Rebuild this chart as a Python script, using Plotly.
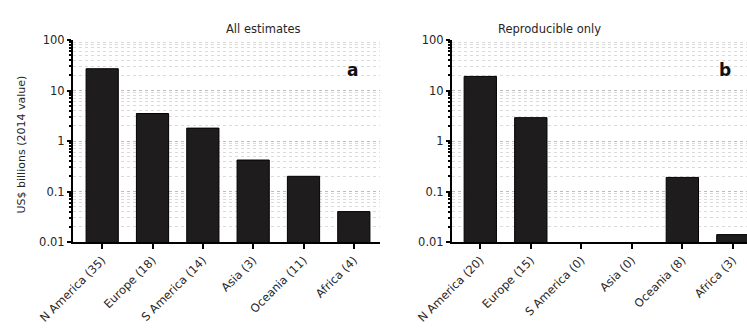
import plotly.graph_objects as go

# Regions with number of estimates in parentheses
regions_all = ["N America (35)", "Europe (18)", "S America (14)", "Asia (3)", "Oceania (11)", "Africa (4)"]
values_all = [27, 3.5, 1.8, 0.42, 0.2, 0.04]

regions_rep = ["N America (20)", "Europe (15)", "S America (0)", "Asia (0)", "Oceania (8)", "Africa (3)"]
values_rep = [19, 2.9, None, None, 0.19, 0.014]

ytick_vals = [0.01, 0.1, 1, 10, 100]
ytick_text = ["0.01", "0.1", "1", "10", "100"]
minor_vals = [m * 10 ** e for e in range(-2, 2) for m in range(2, 10)]

FONT = "DejaVu Sans, Verdana, sans-serif"
TXT = "#262626"
BAR = "#1f1c1d"
W, H = 747, 333

fig = go.Figure()
fig.add_trace(go.Bar(x=regions_all, y=values_all, width=0.64, xaxis="x", yaxis="y",
                     marker=dict(color=BAR, line=dict(color="black", width=1))))
fig.add_trace(go.Bar(x=regions_rep, y=values_rep, width=0.64, xaxis="x2", yaxis="y2",
                     marker=dict(color=BAR, line=dict(color="black", width=1))))

y_top = 1 - 40 / H
y_bot = 1 - 242 / H

def yaxis(anchor):
    return dict(type="log", range=[-2, 2], domain=[y_bot, y_top], anchor=anchor,
                automargin=False,
                tickmode="array", tickvals=ytick_vals, ticktext=ytick_text,
                ticks="outside", ticklen=4, tickwidth=1.5, tickcolor="black",
                showline=True, linecolor="black", linewidth=2,
                showgrid=True, gridcolor="#bcbcbc", griddash="dot", gridwidth=1,
                zeroline=False,
                tickfont=dict(family=FONT, size=11.5, color=TXT),
                minor=dict(tickmode="array", tickvals=minor_vals, ticks="outside",
                           ticklen=2, tickcolor="black", showgrid=True,
                           gridcolor="#dadada", griddash="dot", gridwidth=1))

def xaxis(anchor, dom, rng):
    return dict(domain=dom, anchor=anchor, range=rng, type="category",
                automargin=False,
                showline=True, linecolor="black", linewidth=2,
                ticks="outside", ticklen=5, tickwidth=1.5, tickcolor="black",
                tickangle=-45, showgrid=False, zeroline=False,
                tickfont=dict(family=FONT, size=11.5, color=TXT))

fig.update_layout(
    width=W, height=H, margin=dict(l=0, r=0, t=0, b=0, autoexpand=False),
    paper_bgcolor="white", plot_bgcolor="white", showlegend=False,
    bargap=0.36,
    xaxis=xaxis("y", [73 / W, 380 / W], [-0.58, 5.52]),
    yaxis=yaxis("x"),
    xaxis2=xaxis("y2", [452 / W, 1.0], [-0.56, 5.28]),
    yaxis2=yaxis("x2"),
    annotations=[
        dict(text="All estimates", x=224 / W, y=1 - 20 / H, xref="paper", yref="paper",
             showarrow=False, font=dict(family=FONT, size=11.5, color=TXT)),
        dict(text="Reproducible only", x=603 / W, y=1 - 20 / H, xref="paper", yref="paper",
             showarrow=False, font=dict(family=FONT, size=11.5, color=TXT)),
        dict(text="<b>a</b>", x=352 / W, y=1 - 58 / H, xref="paper", yref="paper",
             showarrow=False, font=dict(family=FONT, size=17, color="#111")),
        dict(text="<b>b</b>", x=733 / W, y=1 - 58 / H, xref="paper", yref="paper",
             showarrow=False, font=dict(family=FONT, size=17, color="#111")),
        dict(text="US$ billions (2014 value)", x=12 / W, y=1 - 145 / H, xref="paper",
             yref="paper", showarrow=False, textangle=-90,
             font=dict(family=FONT, size=11, color=TXT)),
    ],
)

fig.write_html("out.html")
